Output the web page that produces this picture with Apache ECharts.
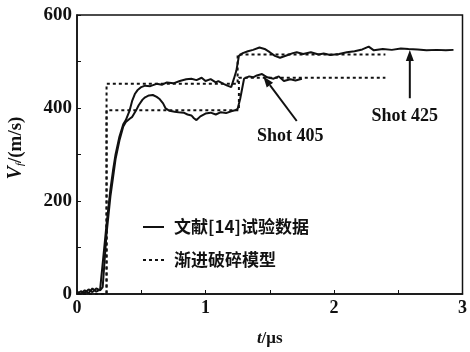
<!DOCTYPE html>
<html><head><meta charset="utf-8">
<script src="https://cdn.jsdelivr.net/npm/echarts@6/dist/echarts.min.js"></script>
<style>html,body{margin:0;padding:0;background:#fff}#c{width:470px;height:352px}</style>
</head><body><div id="c"></div>
<script>
// Shot 425 experimental (upper solid)
const t425 = [0,0.03,0.06,0.09,0.12,0.15,0.18,0.19,0.23,0.26,0.28,0.30,0.33,0.36,0.38,0.41,0.43,0.45,0.47,0.50,0.53,0.57,0.62,0.66,0.70,0.75,0.80,0.85,0.89,0.93,0.97,1.00,1.04,1.08,1.10,1.14,1.17,1.20,1.22,1.24,1.26,1.29,1.33,1.37,1.42,1.46,1.50,1.54,1.58,1.63,1.68,1.71,1.76,1.82,1.88,1.92,1.97,2.04,2.10,2.16,2.22,2.27,2.31,2.38,2.45,2.52,2.58,2.65,2.72,2.80,2.87,2.93];
const v425 = [5,0,8,2,12,5,10,12,150,225,265,300,338,365,374,395,416,430,438,445,448,447,452,450,455,453,458,462,463,460,465,458,462,455,458,452,448,445,462,480,512,518,522,525,530,527,520,512,508,513,518,520,516,520,515,517,514,516,520,522,526,532,524,527,525,528,527,526,524,525,524,525];
// Shot 405 experimental (lower solid)
const t405 = [0,0.03,0.06,0.09,0.12,0.15,0.18,0.20,0.23,0.26,0.28,0.30,0.33,0.36,0.38,0.41,0.43,0.46,0.48,0.51,0.53,0.56,0.59,0.62,0.64,0.67,0.69,0.72,0.76,0.79,0.83,0.86,0.89,0.91,0.93,0.96,1.00,1.04,1.08,1.12,1.16,1.20,1.23,1.25,1.27,1.30,1.34,1.37,1.40,1.44,1.48,1.53,1.57,1.61,1.66,1.70,1.75];
const v405 = [0,6,2,10,4,12,8,15,130,210,250,290,330,360,370,377,381,395,406,418,423,427,428,424,420,410,399,394,392,391,390,386,384,378,374,382,388,390,386,391,389,393,395,398,420,463,468,466,470,473,466,463,468,458,462,459,463];
// Progressive fragmentation model (dotted)
const tModel425 = [0,0.23,0.23,1.25,1.25,2.40];
const vModel425 = [0,0,452,452,515,515];
const tModel405 = [0,0.23,0.23,1.26,1.26,2.40];
const vModel405 = [0,0,395,395,465,465];
const xTicks = ['0','1','2','3'];
const yTicks = ['0','200','400','600'];
const nameExp = '文献[14]试验数据';
const nameModel = '渐进破碎模型';
// annotations (data space): label position, arrow tail, arrow head
const notes = [
  {text:'Shot 425', at:[2.55,382], from:[2.59,421], to:[2.59,525]},
  {text:'Shot 405', at:[1.66,340], from:[1.71,372], to:[1.45,468]}
];

const zip = (a,b)=>a.map((x,i)=>[x,b[i]]);
const serif = '"Liberation Serif","DejaVu Serif",serif';
const cjk = '"Noto Sans CJK SC",sans-serif';
const black = '#111';

const chart = echarts.init(document.getElementById('c'));
const solid = {type:'line', showSymbol:false, symbol:'none', lineStyle:{color:black,width:2}, itemStyle:{color:black}, animation:false, z:3};
const dotted = {type:'line', showSymbol:false, symbol:'none', lineStyle:{color:black,width:2,type:[3,3]}, itemStyle:{color:black}, animation:false, z:2};
const annot = (coord,text)=>({
  symbol:'circle', symbolSize:0, silent:true, animation:false,
  label:{show:true, position:'inside', formatter:text, color:black, fontFamily:serif, fontWeight:'bold', fontSize:18},
  data:[{coord:coord}]
});

chart.setOption({
  backgroundColor:'#fff',
  animation:false,
  grid:{left:77,right:1,top:15,bottom:57,show:true,borderColor:black,borderWidth:1.5},
  xAxis:{
    type:'value', min:0, max:3, interval:0.5,
    axisLine:{show:true,lineStyle:{color:black,width:1.5}},
    axisTick:{show:true,inside:true,length:4,lineStyle:{color:black}},
    splitLine:{show:false},
    axisLabel:{color:black,fontFamily:serif,fontWeight:'bold',fontSize:18,margin:5,
      formatter:v=>{const i=xTicks.indexOf(String(v));return i>=0?xTicks[i]:'';}},
    name:'{t|t}/μs', nameLocation:'middle', nameGap:36,
    nameTextStyle:{color:black,fontFamily:serif,fontWeight:'bold',fontSize:17,rich:{t:{fontStyle:'italic',fontFamily:serif,fontWeight:'bold',fontSize:17,color:black}}}
  },
  yAxis:{
    type:'value', min:0, max:600, interval:100,
    axisLine:{show:true,lineStyle:{color:black,width:1.5}},
    axisTick:{show:true,inside:true,length:4,lineStyle:{color:black}},
    splitLine:{show:false},
    axisLabel:{color:black,fontFamily:serif,fontWeight:'bold',fontSize:19,margin:5,
      formatter:v=>{const i=yTicks.indexOf(String(v));return i>=0?yTicks[i]:'';}}
  },
  series:[
    Object.assign({}, solid, {name:nameExp, data:zip(t425,v425), markPoint:annot(notes[0].at,notes[0].text)}),
    Object.assign({}, solid, {name:nameExp, data:zip(t405,v405), markPoint:annot(notes[1].at,notes[1].text)}),
    Object.assign({}, dotted, {name:nameModel, data:zip(tModel425,vModel425)}),
    Object.assign({}, dotted, {name:nameModel, data:zip(tModel405,vModel405)})
  ]
});

// arrows + legend + y-axis title as graphic elements
const g = [];
notes.forEach((n,k)=>{
  const a = chart.convertToPixel({xAxisIndex:0,yAxisIndex:0}, n.from);
  const b = chart.convertToPixel({xAxisIndex:0,yAxisIndex:0}, n.to);
  const dx=b[0]-a[0], dy=b[1]-a[1], L=Math.hypot(dx,dy), ux=dx/L, uy=dy/L;
  const hl=11, hw=4;
  const bx=b[0]-ux*hl, by=b[1]-uy*hl;
  g.push({id:'arrL'+k, type:'polyline', z:50, shape:{points:[[a[0],a[1]],[bx,by]]}, style:{stroke:black,lineWidth:2,fill:null}, silent:true});
  g.push({id:'arrH'+k, type:'polygon', z:50, shape:{points:[[b[0],b[1]],[bx-uy*hw,by+ux*hw],[bx+uy*hw,by-ux*hw]]}, style:{fill:black}, silent:true});
});
const legendItems = [{name:nameExp, dash:null, y:227},{name:nameModel, dash:[3,3], y:260}];
legendItems.forEach((it,k)=>{
  g.push({id:'lgL'+k, type:'line', z:50, shape:{x1:143,y1:it.y,x2:164,y2:it.y}, style:{stroke:black,lineWidth:2,lineDash:it.dash}, silent:true});
  g.push({id:'lgT'+k, type:'text', z:50, x:174, y:it.y, style:{text:it.name, fill:black, font:'bold 17px '+cjk, verticalAlign:'middle', align:'left'}, silent:true});
});
g.push({
  id:'ytitle', type:'text', x:16, y:148, rotation:Math.PI/2, z:50,
  style:{
    text:'{v|V}{s|f}{n|/(m/s)}', align:'center', verticalAlign:'middle',
    rich:{
      v:{fontFamily:serif,fontStyle:'italic',fontWeight:'bold',fontSize:20,fill:black},
      s:{fontFamily:serif,fontStyle:'italic',fontSize:11,fill:black,padding:[9,0,0,0]},
      n:{fontFamily:serif,fontWeight:'bold',fontSize:19,fill:black}
    }
  }
});
chart.setOption({graphic:{elements:g}});
</script></body></html>
